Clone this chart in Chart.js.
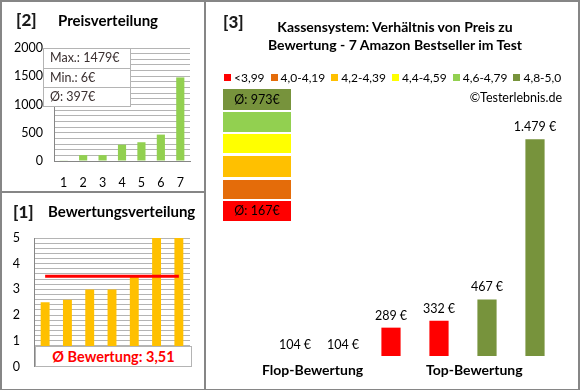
<!DOCTYPE html>
<html lang="de">
<head>
  <meta charset="UTF-8" />
  <title>Kassensystem - Preis / Bewertung</title>
  <script src="https://cdn.jsdelivr.net/npm/chart.js"></script>
  <style>
    body { margin: 0; width: 580px; height: 390px; background: #fff; font-family: Lato, sans-serif; position: relative; overflow: hidden; }
    .abs { position: absolute; }
    .frame { left: 0; top: 0; width: 576px; height: 387px; border: 2px solid #868686; }
    .vdiv { left: 204px; top: 0; width: 2px; height: 389px; background: #868686; }
    .hdiv { left: 0; top: 191px; width: 205px; height: 2px; background: #868686; }
    .num { font-weight: 900; font-size: 17px; color: #1a1a1a; }
    .ttl { font-weight: bold; font-size: 15px; color: #000; }
    .statbox { left: 43px; top: 48px; width: 86px; background: #fff; border: 1px solid #b4b4b4; font-size: 12.5px; color: #3a2f2f; }
    .statbox div { height: 18px; line-height: 18px; padding-left: 6px; border-top: 1px solid #b4b4b4; }
    .statbox div:first-child { border-top: none; height: 19px; }
    .avgbox { left: 35px; top: 346px; width: 155px; height: 19px; line-height: 19px; background: #fff; border: 1px solid #b4b4b4; text-align: center; color: #ff0000; font-weight: bold; font-size: 14.5px; }
    .legend { left: 224px; top: 70px; font-size: 12px; color: #000; display: flex; white-space: nowrap; }
    .legend span.sq { display: inline-block; width: 7px; height: 7px; margin-right: 3px; vertical-align: 1px; }
    .legend span.item { margin-right: 6px; }
    .scale div { position: absolute; left: 0; width: 68px; font-size: 12.5px; color: #000; text-align: center; }
  </style>
</head>
<body>
  <canvas id="priceChart" class="abs" style="left:0;top:0" width="205" height="192"></canvas>
  <canvas id="ratingChart" class="abs" style="left:0;top:193px" width="205" height="195"></canvas>
  <canvas id="mainChart" class="abs" style="left:206px;top:0" width="371" height="388"></canvas>

  <div class="abs frame"></div>
  <div class="abs vdiv"></div>
  <div class="abs hdiv"></div>

  <div class="abs num" style="left:16px;top:9px">[2]</div>
  <div class="abs ttl" style="left:58px;top:11px">Preisverteilung</div>
  <div class="abs statbox" id="statBox"></div>

  <div class="abs num" style="left:13px;top:201px">[1]</div>
  <div class="abs ttl" style="left:48px;top:202px">Bewertungsverteilung</div>
  <div class="abs avgbox" id="avgBox"></div>

  <div class="abs num" style="left:223px;top:11px">[3]</div>
  <div class="abs ttl" style="left:240px;top:18px;width:310px;text-align:center;line-height:18px;font-size:14px">Kassensystem: Verhältnis von Preis zu<br>Bewertung - 7 Amazon Bestseller im Test</div>
  <div class="abs legend" id="legend"></div>
  <div class="abs" style="left:460px;top:90px;width:102px;text-align:right;font-size:12.5px">©Testerlebnis.de</div>
  <div class="abs scale" id="scale" style="left:223px;top:89px"></div>
  <div class="abs ttl" style="left:262px;top:361px;font-size:14px">Flop-Bewertung</div>
  <div class="abs ttl" style="left:426px;top:361px;font-size:14px">Top-Bewertung</div>

  <script>
    // Preisverteilung (7 Produkte)
    const priceLabels = ["1", "2", "3", "4", "5", "6", "7"];
    const prices = [6, 104, 104, 289, 332, 467, 1479];

    // Bewertungsverteilung
    const ratings = [2.5, 2.6, 3.0, 3.0, 3.5, 5.0, 5.0];

    // Hauptdiagramm: Preis zu Bewertung
    const mainLabels = ["a", "b", "c", "d", "e", "f"];
    const mainPrices = [104, 104, 289, 332, 467, 1479];
    const mainGroup = [0, 0, 0, 0, 5, 5];

    // Bewertungsklassen
    const classLabels = ["<3,99", "4,0-4,19", "4,2-4,39", "4,4-4,59", "4,6-4,79", "4,8-5,0"];
    const classColors = ["#ff0000", "#e46c0a", "#ffc000", "#ffff00", "#92d050", "#77933c"];
    const avgTop = "973";
    const avgFlop = "167";

    const FONT = "Lato";
    const tickFont = { family: FONT, size: 12.5 };

    // stat box
    const maxP = Math.max(...prices);
    const minP = Math.min(...prices);
    const avgP = Math.round(prices.reduce((a, b) => a + b, 0) / prices.length);
    document.getElementById("statBox").innerHTML =
      "<div>Max.: " + maxP + "€</div><div>Min.: " + minP + "€</div><div>Ø: " + avgP + "€</div>";

    const avgR = ratings.reduce((a, b) => a + b, 0) / ratings.length;
    document.getElementById("avgBox").textContent = "Ø Bewertung: " + avgR.toFixed(2).replace(".", ",");

    // legend
    let lg = "";
    classLabels.forEach((l, i) => {
      lg += '<span class="item"><span class="sq" style="background:' + classColors[i] + '"></span>' + l + "</span>";
    });
    document.getElementById("legend").innerHTML = lg;

    // colour scale boxes, top = best
    let sc = "";
    const tops = [0, 23, 45, 67, 91, 112];
    const heights = [21, 20, 19, 21, 19, 20];
    for (let i = 0; i < 6; i++) {
      const ci = 5 - i;
      let txt = "";
      if (i === 0) txt = "Ø: " + avgTop + "€";
      if (i === 5) txt = "Ø: " + avgFlop + "€";
      sc += '<div style="top:' + tops[i] + 'px;height:' + heights[i] + 'px;line-height:' + heights[i] + 'px;background:' + classColors[ci] + '">' + txt + "</div>";
    }
    document.getElementById("scale").innerHTML = sc;

    Chart.defaults.font.family = FONT;
    Chart.defaults.color = "#000";

    new Chart(document.getElementById("priceChart"), {
      type: "bar",
      data: {
        labels: priceLabels,
        datasets: [{ data: prices, backgroundColor: "#92d050", barPercentage: 0.42, categoryPercentage: 1 }]
      },
      options: {
        responsive: false,
        animation: false,
        layout: { padding: { top: 48, right: 15, left: 0, bottom: 0 } },
        plugins: { legend: { display: false }, tooltip: { enabled: false } },
        scales: {
          x: {
            grid: { display: false, drawTicks: false },
            border: { color: "#868686" },
            ticks: { padding: 14, font: tickFont },
            afterFit: s => { s.height = 31; }
          },
          y: {
            min: 0, max: 2000,
            grid: { color: "#b4b4b4", drawTicks: false },
            border: { color: "#868686" },
            ticks: { stepSize: 100, autoSkip: false, padding: 11, font: tickFont,
              callback: v => (v % 500 === 0 ? v : "") },
            afterFit: s => { s.width = 54; }
          }
        }
      }
    });

    new Chart(document.getElementById("ratingChart"), {
      type: "bar",
      data: {
        labels: priceLabels,
        datasets: [
          { type: "line", data: ratings.map(() => avgR), borderColor: "#ff0000", borderWidth: 3, pointRadius: 0, order: 0 },
          { data: ratings, backgroundColor: "#ffc000", barPercentage: 0.4, categoryPercentage: 1, order: 1 }
        ]
      },
      options: {
        responsive: false,
        animation: false,
        layout: { padding: { top: 45, right: 15, left: 0, bottom: 13 } },
        plugins: { legend: { display: false }, tooltip: { enabled: false } },
        scales: {
          x: { display: false },
          y: {
            min: 0, max: 5,
            grid: { color: "#b4b4b4", drawTicks: false },
            border: { color: "#868686" },
            ticks: { stepSize: 0.2, autoSkip: false, padding: 14, font: tickFont,
              callback: v => (Math.abs(v - Math.round(v)) < 1e-6 ? Math.round(v) : "") },
            afterFit: s => { s.width = 34; }
          }
        }
      }
    });

    const barLabels = {
      id: "barLabels",
      afterDatasetsDraw(chart) {
        const ctx = chart.ctx;
        const meta = chart.getDatasetMeta(0);
        ctx.save();
        ctx.font = "12.5px " + FONT;
        ctx.fillStyle = "#000";
        ctx.textAlign = "center";
        ctx.textBaseline = "middle";
        meta.data.forEach((bar, i) => {
          ctx.fillText(mainPrices[i].toLocaleString("de-DE") + " €", bar.x, bar.y - 12);
        });
        ctx.restore();
      }
    };

    new Chart(document.getElementById("mainChart"), {
      type: "bar",
      data: {
        labels: mainLabels,
        datasets: [{
          data: mainPrices,
          backgroundColor: mainGroup.map(g => classColors[g]),
          barPercentage: 0.4, categoryPercentage: 1
        }]
      },
      options: {
        responsive: false,
        animation: false,
        layout: { padding: { top: 120, right: 18, left: 65, bottom: 32 } },
        plugins: { legend: { display: false }, tooltip: { enabled: false } },
        scales: {
          x: { display: false },
          y: { display: false, min: 110, max: 1600 }
        }
      },
      plugins: [barLabels]
    });
  </script>
</body>
</html>
